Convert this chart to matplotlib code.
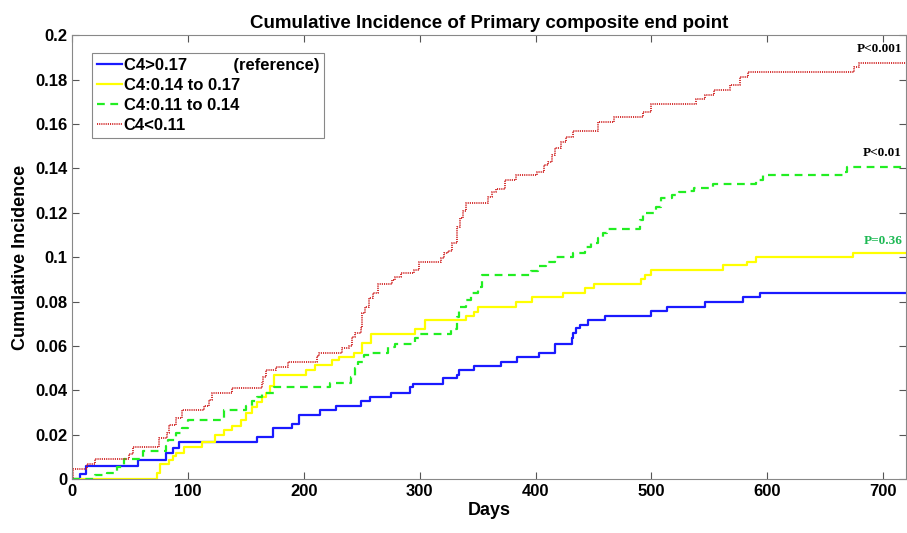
import matplotlib
matplotlib.use("Agg")
import matplotlib.pyplot as plt
from matplotlib.ticker import FuncFormatter

# step data (days, cumulative incidence)
blue_days = [0, 7, 12, 57, 81, 87, 92, 160, 173, 190, 196, 214, 228, 249, 257, 275, 292, 294, 320, 332,
             334, 347, 370, 384, 403, 417, 431, 432, 435, 438, 445, 460, 500, 513, 546, 579, 594]
blue_vals = [0, 0.0023, 0.006, 0.0085, 0.012, 0.014, 0.0167, 0.019, 0.023, 0.025, 0.029, 0.031, 0.033,
             0.035, 0.037, 0.039, 0.0415, 0.043, 0.0455, 0.047, 0.049, 0.051, 0.053, 0.055, 0.057, 0.061,
             0.0635, 0.0657, 0.068, 0.0694, 0.0716, 0.0734, 0.0757, 0.0775, 0.0797, 0.082, 0.0838]

yellow_days = [0, 72, 73, 76, 84, 87, 90, 97, 112, 123, 131, 138, 146, 150, 155, 160, 164, 167, 171, 174,
               202, 210, 224, 230, 243, 250, 258, 296, 305, 340, 347, 350, 383, 397, 424, 443, 450, 491,
               494, 500, 562, 582, 590, 674]
yellow_vals = [0, 0, 0.0027, 0.0068, 0.0086, 0.0104, 0.012, 0.0144, 0.0167, 0.0198, 0.022, 0.024, 0.0266,
               0.0297, 0.0325, 0.0347, 0.037, 0.039, 0.042, 0.047, 0.049, 0.0513, 0.0536, 0.055, 0.057,
               0.0612, 0.0653, 0.0676, 0.0716, 0.0734, 0.0752, 0.0775, 0.0797, 0.082, 0.0838, 0.086, 0.088,
               0.090, 0.092, 0.094, 0.0964, 0.098, 0.1, 0.102]

green_days = [0, 20, 30, 39, 45, 61, 81, 83, 90, 95, 100, 131, 150, 155, 160, 164, 174, 223, 241, 244,
              247, 252, 258, 273, 279, 296, 299, 327, 332, 334, 340, 344, 350, 354, 396, 402, 409, 417,
              432, 443, 448, 454, 458, 462, 490, 493, 504, 508, 518, 524, 531, 537, 553, 590, 596, 665, 669]
green_vals = [0, 0.0018, 0.003, 0.0053, 0.009, 0.0126, 0.015, 0.0175, 0.0207, 0.023, 0.0266, 0.031, 0.033,
              0.035, 0.037, 0.039, 0.0414, 0.0432, 0.046, 0.05, 0.053, 0.056, 0.057, 0.0595, 0.061, 0.0635,
              0.0655, 0.0676, 0.073, 0.0775, 0.0806, 0.084, 0.0865, 0.092, 0.0937, 0.096, 0.098, 0.1, 0.102,
              0.1045, 0.1063, 0.1085, 0.111, 0.1126, 0.1167, 0.12, 0.1225, 0.1265, 0.128, 0.1293, 0.130,
              0.131, 0.133, 0.1347, 0.1369, 0.1383, 0.1405]

red_days = [0, 1, 13, 20, 49, 53, 75, 82, 84, 90, 95, 114, 118, 121, 138, 164, 165, 167, 176, 186,
            211, 213, 233, 239, 242, 244, 249, 250, 253, 256, 260, 264, 276, 279, 284, 295, 299, 318, 321, 324,
            328, 332, 335, 337, 340, 359, 362, 366, 374, 383, 401, 407, 411, 414, 417, 422, 426, 432, 454, 468,
            493, 500, 538, 546, 554, 568, 576, 583, 675, 679]
red_vals = [0, 0.0045, 0.007, 0.009, 0.0113, 0.0144, 0.0185, 0.021, 0.0243, 0.0275,
            0.031, 0.033, 0.0356, 0.0387, 0.041, 0.0432, 0.046, 0.049, 0.0505, 0.053,
            0.0554, 0.057, 0.059, 0.060, 0.064, 0.0657, 0.068, 0.075, 0.0775, 0.0815,
            0.084, 0.088, 0.0896, 0.091, 0.0928, 0.094, 0.0978, 0.0995, 0.1018, 0.103,
            0.1063, 0.1135, 0.1175, 0.121, 0.1243, 0.127, 0.1293, 0.1306, 0.1347, 0.137,
            0.1383, 0.1414, 0.143, 0.146, 0.149, 0.152, 0.154, 0.1567, 0.161, 0.163,
            0.1653, 0.169, 0.1712, 0.173, 0.1752, 0.1775, 0.181, 0.1833, 0.1856, 0.1874]

labels = ["C4>0.17          (reference)", "C4:0.14 to 0.17", "C4:0.11 to 0.14", "C4<0.11"]
p_labels = ["P<0.001", "P<0.01", "P=0.36"]
x_max = 720

plt.rcParams['font.family'] = ['Liberation Sans', 'DejaVu Sans']
plt.rcParams['font.weight'] = 'bold'

fig = plt.figure(figsize=(9.07, 5.33), dpi=100)
ax = fig.add_axes([0.0794, 0.101, 0.92, 0.833])


def draw(days, vals, **kw):
    ax.step(days + [x_max], vals + [vals[-1]], where='post', **kw)


draw(blue_days, blue_vals, color='#1a1aff', lw=1.6, label=labels[0])
draw(yellow_days, yellow_vals, color='#ffff00', lw=1.6, label=labels[1])
draw(green_days, green_vals, color='#22ee22', lw=1.6, ls=(0, (3.5, 2.5)), label=labels[2])
draw(red_days, red_vals, color='#d02020', lw=1.3, ls=(0, (0.6, 0.6)), label=labels[3])

ax.set_xlim(0, x_max)
ax.set_ylim(0, 0.2)
ax.set_xticks(range(0, 701, 100))
ax.set_yticks([i * 0.02 for i in range(11)])
ax.yaxis.set_major_formatter(FuncFormatter(lambda v, p: '%g' % round(v, 3)))
ax.tick_params(direction='in', top=True, right=True, labelsize=12, length=5, width=0.8, colors='#555555',
               labelcolor='black')
for s in ax.spines.values():
    s.set_color('#888888')
    s.set_linewidth(0.8)

ax.set_title("Cumulative Incidence of Primary composite end point", fontsize=13.5, fontweight='bold', pad=5)
ax.set_xlabel("Days", fontsize=13, fontweight='bold', labelpad=2)
ax.set_ylabel("Cumulative Incidence", fontsize=13, fontweight='bold', labelpad=4)

leg = ax.legend(loc='upper left', bbox_to_anchor=(0.024, 0.96), fontsize=12, frameon=True, fancybox=False,
                framealpha=1, edgecolor='#888888', handlelength=1.5, handletextpad=0.1, borderpad=0.3,
                labelspacing=0.3, borderaxespad=0)
leg.get_frame().set_linewidth(0.8)
for t in leg.get_texts():
    t.set_fontweight('bold')

serif = ['Liberation Serif', 'DejaVu Serif']
ax.text(716, red_vals[-1] + 0.0035, p_labels[0], family=serif, fontsize=9.5, fontweight='bold',
        ha='right', va='bottom', color='black')
ax.text(716, green_vals[-1] + 0.0035, p_labels[1], family=serif, fontsize=9.5, fontweight='bold',
        ha='right', va='bottom', color='black')
ax.text(717, yellow_vals[-1] + 0.0025, p_labels[2], family=serif, fontsize=9.5, fontweight='bold',
        ha='right', va='bottom', color='#1db954')

fig.savefig("out.png", dpi=100)
